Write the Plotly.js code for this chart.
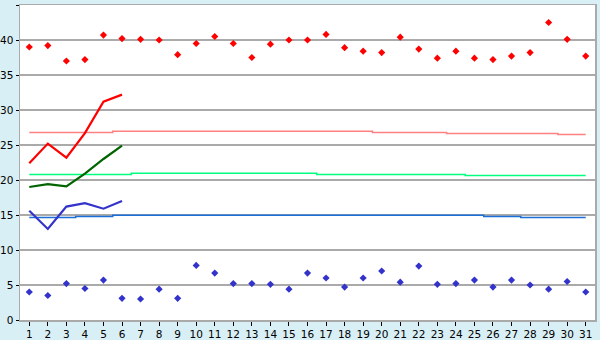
<!DOCTYPE html>
<html>
<head>
<meta charset="utf-8">
<script src="https://cdn.plot.ly/plotly-3.0.1.min.js"></script>
<style>html,body{margin:0;padding:0;background:#d9eff6;}#chart{width:600px;height:340px;}</style>
</head>
<body>
<div id="chart"></div>
<script>
var days = [1,2,3,4,5,6,7,8,9,10,11,12,13,14,15,16,17,18,19,20,21,22,23,24,25,26,27,28,29,30,31];
var recordMax = [39.0,39.2,37.0,37.2,40.7,40.2,40.1,40.0,37.9,39.5,40.5,39.5,37.5,39.4,40.0,40.0,40.8,38.9,38.4,38.2,40.4,38.7,37.4,38.4,37.4,37.2,37.7,38.2,42.5,40.1,37.7];
var recordMin = [4.0,3.5,5.2,4.5,5.7,3.1,3.0,4.4,3.1,7.8,6.7,5.2,5.2,5.1,4.4,6.7,6.0,4.7,6.0,7.0,5.4,7.7,5.1,5.2,5.7,4.7,5.7,5.0,4.4,5.5,4.0];
var normalMax = [26.8,26.8,26.8,26.8,26.8,26.95,26.95,26.95,26.95,26.95,26.95,26.95,26.95,26.95,26.95,26.95,26.95,26.95,26.95,26.8,26.8,26.8,26.8,26.65,26.65,26.65,26.65,26.65,26.65,26.5,26.5];
var normalMean = [20.8,20.8,20.8,20.8,20.8,20.8,20.95,20.95,20.95,20.95,20.95,20.95,20.95,20.95,20.95,20.95,20.8,20.8,20.8,20.8,20.8,20.8,20.8,20.8,20.65,20.65,20.65,20.65,20.65,20.65,20.65];
var normalMin = [14.65,14.65,14.65,14.8,14.8,14.95,14.95,14.95,14.95,14.95,14.95,14.95,14.95,14.95,14.95,14.95,14.95,14.95,14.95,14.95,14.95,14.95,14.95,14.95,14.95,14.8,14.8,14.65,14.65,14.65,14.65];
var obsDays = [1,2,3,4,5,6];
var obsMax = [22.4,25.2,23.2,26.7,31.2,32.2];
var obsMean = [19.0,19.4,19.1,20.9,23.0,24.9];
var obsMin = [15.6,13.0,16.2,16.7,15.9,17.0];

var traces = [
  {x: days, y: normalMax, mode: 'lines', line: {color: '#ff8080', width: 1.5, shape: 'hvh'}},
  {x: days, y: normalMean, mode: 'lines', line: {color: '#00ff7f', width: 1.5, shape: 'hvh'}},
  {x: days, y: normalMin, mode: 'lines', line: {color: '#1a6fd8', width: 1.5, shape: 'hvh'}},
  {x: obsDays, y: obsMax, mode: 'lines', line: {color: '#ff0000', width: 2.2}},
  {x: obsDays, y: obsMean, mode: 'lines', line: {color: '#006400', width: 2.2}},
  {x: obsDays, y: obsMin, mode: 'lines', line: {color: '#3333cc', width: 2.2}},
  {x: days, y: recordMax, mode: 'markers', marker: {symbol: 'diamond', size: 5.5, color: '#ff0000'}},
  {x: days, y: recordMin, mode: 'markers', marker: {symbol: 'diamond', size: 5.5, color: '#3333cc'}}
];

var layout = {
  width: 600, height: 340,
  margin: {l: 20, r: 5, t: 5, b: 20, pad: 0},
  paper_bgcolor: '#d9eff6',
  plot_bgcolor: '#ffffff',
  showlegend: false,
  font: {family: 'DejaVu Sans, Verdana, sans-serif', size: 10.5, color: '#000000'},
  xaxis: {
    range: [0.5, 31.5], tickmode: 'array', tickvals: days, ticktext: days.map(String),
    showgrid: false, zeroline: false, showline: true, linecolor: '#aaaaaa', linewidth: 1.5, mirror: true,
    ticks: 'outside', ticklen: 4, tickcolor: '#000000', tickwidth: 1, automargin: false,
    tickfont: {size: 10.5}
  },
  yaxis: {
    range: [0, 45], dtick: 5, tick0: 0,
    showgrid: true, gridcolor: '#aaaaaa', gridwidth: 1.5, zeroline: false,
    showline: true, linecolor: '#aaaaaa', linewidth: 1.5, mirror: true,
    ticks: 'outside', ticklen: 3, tickcolor: '#000000', tickwidth: 1, automargin: false,
    tickfont: {size: 10.5}
  }
};

Plotly.newPlot('chart', traces, layout, {displayModeBar: false, staticPlot: true});
</script>
</body>
</html>
